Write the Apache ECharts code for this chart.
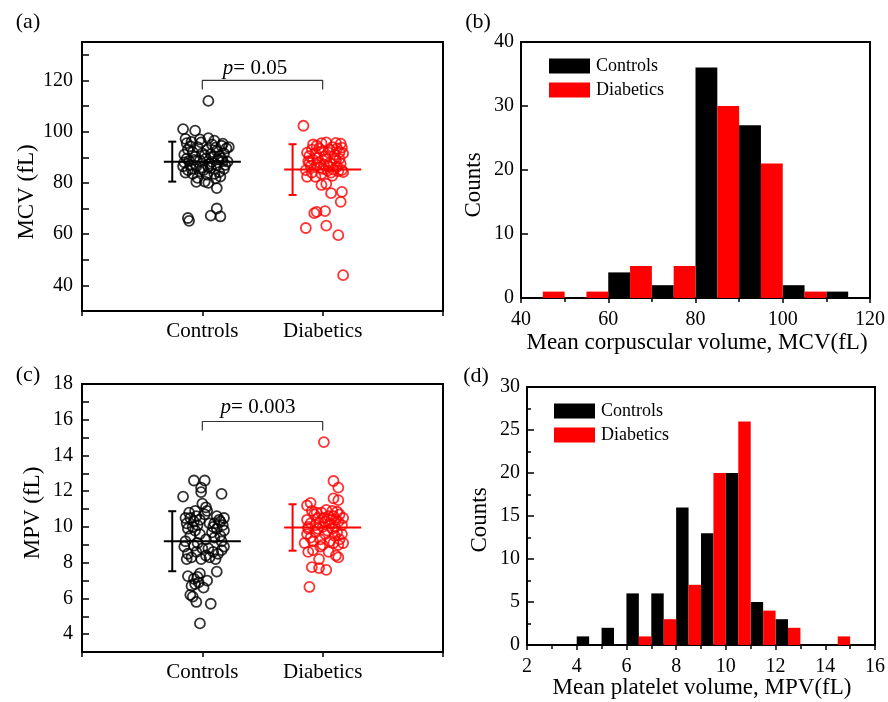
<!DOCTYPE html>
<html>
<head>
<meta charset="utf-8">
<script src="https://cdn.jsdelivr.net/npm/echarts@6/dist/echarts.min.js"></script>
<style>
  html, body { margin: 0; padding: 0; background: #fff; }
  #chart { width: 888px; height: 702px; }
</style>
</head>
<body>
<div id="chart"></div>
<script>
const FONT = '"Liberation Serif", "Times New Roman", serif'
const groupNames = ['Controls', 'Diabetics']

// scatter points: [x jitter around the category, value]
const mcvControls = [
  [0.05, 112], [-0.16, 101], [-0.06, 100.4], [0.12, 70], [-0.12, 66.3], [-0.11, 65.2], [0.07, 67.2], [0.15, 66.9], [0.12, 78],
  [-0.05, 80.4], [0.02, 80.5], [0.05, 80.0], [-0.14, 84], [-0.12, 85], [-0.08, 83.5], [-0.02, 84.5], [0.04, 83.2], [0.10, 83.5],
  [0.14, 84.2], [0.18, 85.5], [-0.15, 88], [-0.10, 87], [-0.05, 86.5], [0.00, 86], [0.06, 87.5], [0.12, 86.8], [0.17, 88.5],
  [0.21, 88.3], [-0.13, 89.5], [-0.07, 89], [-0.02, 88.8], [0.03, 89.5], [0.08, 88.2], [0.13, 89.2], [0.19, 87], [-0.16, 86.5],
  [-0.09, 85.5], [0.01, 85], [0.07, 85.8], [0.15, 82.5], [-0.04, 82], [0.11, 81.8], [-0.11, 88.6], [0.05, 86.2], [0.16, 89.6],
  [-0.15, 91], [-0.12, 93], [-0.08, 92], [-0.04, 94], [0.00, 91.5], [0.04, 93], [0.08, 95], [0.12, 92.5], [0.16, 94.5],
  [0.20, 93.5], [-0.13, 95.5], [-0.09, 96], [-0.02, 97], [0.05, 97.5], [0.10, 96.5], [0.14, 90.5], [0.18, 91.5], [-0.06, 90.2],
  [0.02, 90.8], [0.07, 91.2], [0.11, 93.8], [-0.10, 94.3], [0.22, 94], [0.17, 95.3], [-0.01, 95.8], [0.09, 90.4], [-0.14, 97.2]
]
const mcvDiabetics = [
  [0.17, 44], [0.13, 59.6], [-0.14, 62.4], [0.03, 63.3], [-0.05, 68.7], [-0.07, 68.2], [0.02, 69],
  [0.15, 72.6], [0.16, 76.5], [0.07, 76], [-0.01, 79.2], [0.03, 79.6], [-0.16, 102.3],
  [-0.06, 82.4], [-0.13, 82.4], [-0.14, 85], [-0.10, 86.5], [-0.05, 87], [0.00, 85.5], [0.04, 84.8], [0.09, 85.2],
  [0.13, 84.6], [0.16, 85], [0.17, 84.2], [-0.12, 88.5], [-0.08, 89], [-0.03, 88], [0.02, 89.3], [0.06, 87.8],
  [0.11, 88.6], [0.15, 87.5], [-0.01, 83.5], [0.08, 82.8], [-0.09, 84], [0.12, 86.3], [0.05, 86.5], [-0.04, 89.8],
  [0.10, 89.6], [0.01, 87.2], [-0.11, 87.8], [0.14, 89.4], [0.07, 84], [-0.02, 86],
  [-0.13, 91.8], [-0.09, 93], [-0.05, 94.5], [-0.01, 95.5], [0.03, 95.8], [0.08, 94], [0.12, 93.5], [0.15, 95.3],
  [-0.11, 90.5], [-0.06, 91.5], [0.00, 92.5], [0.05, 91.8], [0.10, 91], [0.14, 92], [0.17, 91.5], [-0.03, 93.5],
  [0.06, 93], [-0.08, 95], [0.11, 95.6], [0.02, 90.4], [0.16, 93.8]
]
const mpvControls = [
  [-0.02, 4.6], [-0.05, 5.8], [0.07, 5.7],
  [-0.08, 6.1], [-0.10, 6.2], [0.01, 6.6], [-0.06, 6.8], [-0.03, 6.9], [-0.09, 6.7],
  [0.04, 7.0], [-0.07, 7.1], [-0.12, 7.25], [-0.02, 7.4], [0.12, 7.5], [-0.04, 7.2],
  [-0.15, 8.9], [-0.12, 8.5], [-0.09, 8.3], [-0.05, 8.6], [-0.01, 8.2], [0.03, 8.4], [0.06, 8.3], [0.09, 8.6],
  [0.13, 8.5], [0.16, 8.7], [0.18, 8.9], [-0.13, 8.2], [0.00, 8.8], [0.11, 8.2], [-0.07, 8.95], [0.05, 8.8],
  [-0.14, 9.2], [-0.10, 9.5], [-0.06, 9.8], [-0.02, 9.6], [0.03, 9.3], [0.08, 9.7], [0.12, 9.9], [0.15, 9.5],
  [0.18, 9.8], [-0.12, 9.9], [0.10, 9.4], [0.16, 9.2], [-0.04, 9.1],
  [-0.13, 10.2], [-0.10, 10.5], [-0.07, 10.3], [-0.04, 10.1], [-0.11, 10.8], [-0.05, 10.6], [-0.08, 10.0],
  [-0.02, 10.4], [0.02, 10.7], [0.04, 10.9], [0.10, 10.2], [0.14, 10.4], [0.17, 10.1], [0.12, 10.6], [0.15, 10.3],
  [0.09, 10.0], [-0.14, 10.5], [0.06, 10.2], [0.18, 10.5], [-0.06, 10.9],
  [-0.16, 11.7], [-0.01, 11.95], [0.16, 11.85], [0.00, 11.3], [0.03, 11.1],
  [-0.07, 12.6], [0.02, 12.6], [-0.01, 12.2]
]
const mpvDiabetics = [
  [-0.11, 6.64], [-0.09, 7.75], [-0.03, 7.7], [0.03, 7.6],
  [-0.03, 8.2], [-0.12, 8.6], [-0.08, 8.7], [0.05, 8.6], [0.11, 8.4], [0.13, 8.3], [-0.02, 8.9],
  [-0.15, 9.1], [-0.10, 9.4], [-0.06, 9.7], [-0.02, 9.3], [0.02, 9.6], [0.06, 9.2], [0.10, 9.5], [0.14, 9.3],
  [0.17, 9.1], [-0.12, 9.9], [-0.04, 9.9], [0.04, 9.8], [0.08, 9.9], [0.12, 9.7], [0.16, 9.6], [-0.08, 9.2],
  [0.00, 9.0], [0.13, 9.0], [-0.13, 9.6], [0.09, 9.1],
  [-0.13, 10.4], [-0.10, 10.2], [-0.07, 10.7], [-0.04, 10.5], [-0.01, 10.8], [0.02, 10.3], [0.05, 10.6],
  [0.08, 10.9], [0.11, 10.4], [0.14, 10.7], [0.16, 10.1], [-0.12, 10.0], [-0.06, 10.1], [0.00, 10.0], [0.06, 10.2],
  [0.10, 10.0], [0.13, 10.3], [-0.09, 10.9], [0.03, 10.95], [-0.03, 10.2], [0.09, 10.6], [0.17, 10.5], [-0.05, 10.8],
  [0.01, 10.5], [0.12, 10.85], [0.07, 10.4],
  [-0.13, 11.2], [-0.10, 11.35], [0.09, 11.6], [0.13, 11.5],
  [0.09, 12.57], [0.13, 12.2], [0.01, 14.75]
]

// mean and SD per group
const mcvMean = [88.3, 85.2]
const mcvSd = [7.8, 9.9]
const mpvMean = [9.2, 9.97]
const mpvSd = [1.68, 1.3]

// significance brackets [foot, top] and p-values
const mcvBracket = [116.5, 120]
const mpvBracket = [15.4, 15.9]
const mcvP = '0.05'
const mpvP = '0.003'

// histograms
const mcvBinStart = [40, 50, 60, 70, 80, 90, 100, 110]
const mcvBinWidth = 10
const mcvCtrlCounts = [0, 0, 4, 2, 36, 27, 2, 1]
const mcvDiabCounts = [1, 1, 5, 5, 30, 21, 1, 0]

const mpvBinStart = [4, 5, 6, 7, 8, 9, 10, 11, 12, 13, 14]
const mpvBinWidth = 1
const mpvCtrlCounts = [1, 2, 6, 6, 16, 13, 20, 5, 3, 0, 0]
const mpvDiabCounts = [0, 0, 1, 3, 7, 20, 26, 4, 2, 0, 1]

const BLACK = '#000000'
const RED = '#ff0000'

const chart = echarts.init(document.getElementById('chart'), null, { renderer: 'canvas' })

const tickLine = { color: '#000', width: 1.5 }

// x axes: ticks hang outside the frame
function xFrame(extra) {
  return Object.assign({
    axisLine: { show: true, onZero: false, lineStyle: { color: '#000', width: 2 } },
    axisTick: { show: true, inside: false, length: 5, lineStyle: tickLine },
    axisLabel: { color: '#000', fontFamily: FONT, fontSize: 20, margin: 12 },
    splitLine: { show: false }
  }, extra)
}

// y axes: ticks point into the frame
function yFrame(extra) {
  return Object.assign({
    axisLine: { show: true, onZero: false, lineStyle: { color: '#000', width: 2 } },
    axisTick: { show: true, inside: true, length: 7, lineStyle: tickLine },
    axisLabel: { color: '#000', fontFamily: FONT, fontSize: 20, margin: 7 },
    splitLine: { show: false }
  }, extra)
}

function scatterSeries(points, cat, color, idx) {
  return {
    type: 'scatter',
    xAxisIndex: idx,
    yAxisIndex: idx,
    symbol: 'circle',
    symbolSize: 10,
    itemStyle: { color: 'rgba(0,0,0,0)', borderColor: color, borderWidth: 1.8 },
    data: points.map(p => [cat + p[0], p[1]]),
    z: 2
  }
}

function errorSeries(mean, sd, idx) {
  return {
    type: 'custom',
    xAxisIndex: idx,
    yAxisIndex: idx,
    z: 5,
    data: mean.map((m, i) => ({ value: [i + 1, m, sd[i]], itemStyle: { color: i === 0 ? BLACK : RED } })),
    renderItem(params, api) {
      const cat = api.value(0)
      const m = api.value(1)
      const s = api.value(2)
      const color = api.visual('color')
      const a = api.coord([cat - 0.32, m])
      const b = api.coord([cat + 0.32, m])
      const top = api.coord([cat - 0.25, m + s])
      const bot = api.coord([cat - 0.25, m - s])
      const st = { stroke: color, lineWidth: 2 }
      return {
        type: 'group',
        children: [
          { type: 'line', shape: { x1: a[0], y1: a[1], x2: b[0], y2: b[1] }, style: st },
          { type: 'line', shape: { x1: top[0], y1: top[1], x2: bot[0], y2: bot[1] }, style: st },
          { type: 'line', shape: { x1: top[0] - 4, y1: top[1], x2: top[0] + 4, y2: top[1] }, style: st },
          { type: 'line', shape: { x1: bot[0] - 4, y1: bot[1], x2: bot[0] + 4, y2: bot[1] }, style: st }
        ]
      }
    }
  }
}

function bracketSeries(br, idx) {
  return {
    type: 'line',
    xAxisIndex: idx,
    yAxisIndex: idx,
    symbol: 'none',
    silent: true,
    lineStyle: { color: '#333', width: 1.2 },
    data: [[1, br[0]], [1, br[1]], [2, br[1]], [2, br[0]]],
    z: 3
  }
}

function histSeries(name, starts, width, counts, half, color, idx) {
  const data = []
  starts.forEach((s, i) => {
    if (counts[i] > 0) data.push([s + half * width / 2, s + (half + 1) * width / 2, counts[i]])
  })
  return {
    name,
    type: 'custom',
    xAxisIndex: idx,
    yAxisIndex: idx,
    color,
    itemStyle: { color },
    data,
    renderItem(params, api) {
      const p0 = api.coord([api.value(0), api.value(2)])
      const p1 = api.coord([api.value(1), 0])
      return {
        type: 'rect',
        shape: { x: p0[0], y: p0[1], width: p1[0] - p0[0], height: p1[1] - p0[1] },
        style: { fill: color }
      }
    }
  }
}

const gridBase = { show: true, borderColor: '#000', borderWidth: 2, backgroundColor: 'rgba(0,0,0,0)' }

function catAxis(idx) {
  return xFrame({
    gridIndex: idx, type: 'value', min: 0, max: 3, interval: 1,
    axisLabel: {
      color: '#000', fontFamily: FONT, fontSize: 21, margin: 10,
      formatter: v => groupNames[v - 1] || ''
    }
  })
}

function legendAt(left, top) {
  return {
    left, top, orient: 'vertical',
    itemWidth: 41, itemHeight: 15, itemGap: 6,
    selectedMode: false,
    textStyle: { fontFamily: FONT, fontSize: 18, color: '#000', padding: [0, 0, 0, 1] },
    data: [{ name: 'Controls', icon: 'rect' }, { name: 'Diabetics', icon: 'rect' }]
  }
}

function text(str, x, y, size, rot, rich) {
  return {
    type: 'text', x, y, rotation: rot || 0,
    style: {
      text: str, fill: '#000', font: size + 'px ' + FONT,
      align: 'center', verticalAlign: 'middle',
      textAlign: 'center', textVerticalAlign: 'middle',
      rich: rich || undefined
    }
  }
}

const italicP = { i: { fontStyle: 'italic', fontFamily: FONT, fontSize: 21 }, n: { fontFamily: FONT, fontSize: 21 } }
const minor = { show: true, splitNumber: 2, length: 4, lineStyle: tickLine }

const option = {
  animation: false,
  backgroundColor: '#fff',
  grid: [
    Object.assign({ left: 82, top: 42, width: 361, height: 269 }, gridBase),
    Object.assign({ left: 521, top: 42, width: 351, height: 256 }, gridBase),
    Object.assign({ left: 82, top: 384, width: 361, height: 268 }, gridBase),
    Object.assign({ left: 527, top: 387, width: 350, height: 258 }, gridBase)
  ],
  legend: [legendAt(544, 52), legendAt(549, 397)],
  xAxis: [
    catAxis(0),
    xFrame({ gridIndex: 1, type: 'value', min: 40, max: 120, interval: 20, minorTick: minor }),
    catAxis(2),
    xFrame({ gridIndex: 3, type: 'value', min: 2, max: 16, interval: 2, minorTick: minor })
  ],
  yAxis: [
    yFrame({ gridIndex: 0, type: 'value', min: 30, max: 135, interval: 10,
      axisLabel: { color: '#000', fontFamily: FONT, fontSize: 20, margin: 9, formatter: v => (v % 20 === 0 ? v : '') } }),
    yFrame({ gridIndex: 1, type: 'value', min: 0, max: 40, interval: 10 }),
    yFrame({ gridIndex: 2, type: 'value', min: 3, max: 18, interval: 1,
      axisLabel: { color: '#000', fontFamily: FONT, fontSize: 20, margin: 9, formatter: v => (v % 2 === 0 ? v : '') } }),
    yFrame({ gridIndex: 3, type: 'value', min: 0, max: 30, interval: 5, minorTick: minor })
  ],
  series: [
    scatterSeries(mcvControls, 1, BLACK, 0),
    scatterSeries(mcvDiabetics, 2, RED, 0),
    errorSeries(mcvMean, mcvSd, 0),
    bracketSeries(mcvBracket, 0),

    histSeries('Controls', mcvBinStart, mcvBinWidth, mcvCtrlCounts, 0, BLACK, 1),
    histSeries('Diabetics', mcvBinStart, mcvBinWidth, mcvDiabCounts, 1, RED, 1),

    scatterSeries(mpvControls, 1, BLACK, 2),
    scatterSeries(mpvDiabetics, 2, RED, 2),
    errorSeries(mpvMean, mpvSd, 2),
    bracketSeries(mpvBracket, 2),

    histSeries('Controls', mpvBinStart, mpvBinWidth, mpvCtrlCounts, 0, BLACK, 3),
    histSeries('Diabetics', mpvBinStart, mpvBinWidth, mpvDiabCounts, 1, RED, 3)
  ],
  graphic: [
    text('(a)', 28, 22, 22),
    text('(b)', 478, 22, 22),
    text('(c)', 28, 375, 22),
    text('(d)', 476, 376, 22),
    text('MCV (fL)', 27, 192, 23, Math.PI / 2),
    text('Counts', 474, 185, 23, Math.PI / 2),
    text('MPV (fL)', 33, 513, 23, Math.PI / 2),
    text('Counts', 480, 520, 23, Math.PI / 2),
    text('Mean corpuscular volume, MCV(fL)', 697, 343, 23),
    text('Mean platelet volume, MPV(fL)', 702, 688, 23),
    text('{i|p}{n|= ' + mcvP + '}', 255, 68, 21, 0, italicP),
    text('{i|p}{n|= ' + mpvP + '}', 258, 407, 21, 0, italicP)
  ]
}

chart.setOption(option)
</script>
</body>
</html>
